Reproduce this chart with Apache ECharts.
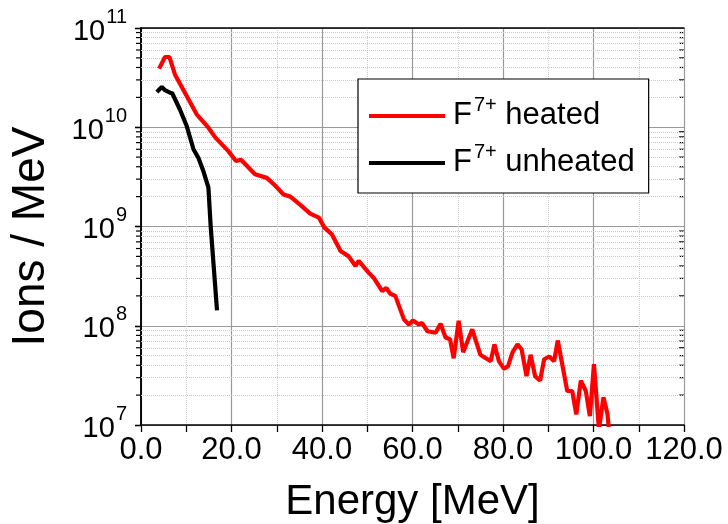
<!DOCTYPE html>
<html>
<head>
<meta charset="utf-8">
<script src="https://cdn.jsdelivr.net/npm/echarts@6/dist/echarts.min.js"></script>
<style>
	html, body { margin: 0; padding: 0; background: #fff; }
	#chart { width: 728px; height: 524px; }
</style>
</head>
<body>
<div id="chart"></div>
<script>
// energy [MeV] and ions / MeV
var heatedX = [4.0, 5.3, 6.3, 7.5, 10.1, 12.3, 14.9, 16.4, 19.3, 21.0, 22.1, 25.2, 27.8, 29.7, 31.5, 33.0, 35.2, 37.4, 39.3, 40.5, 42.2,
	44.1, 45.9, 47.4, 48.1, 50.3, 51.4, 53.3, 54.2, 55.1, 56.2, 58.1, 59.2, 60.1, 61.4, 62.1, 63.3, 65.1, 66.2, 67.3, 68.3,
	69.1, 70.2, 71.2, 73.2, 75.0, 76.2, 77.3, 78.1, 79.1, 80.2, 81.1, 82.1, 83.2, 84.1, 85.2, 86.1, 87.1, 88.2, 89.1, 90.2,
	91.3, 92.1, 94.2, 95.3, 96.2, 97.2, 98.3, 99.2, 100.1, 101.2, 102.2, 103.1, 103.5];
var heatedY = [3.9e10, 5.1e10, 5.1e10, 3.4e10, 2.07e10, 1.35e10, 9.9e9, 7.9e9, 5.75e9, 4.57e9, 4.7e9, 3.36e9, 3.09e9, 2.57e9, 2.1e9, 2.0e9, 1.65e9, 1.35e9, 1.23e9, 9.8e8, 8.3e8,
	5.66e8, 5.0e8, 4.0e8, 4.5e8, 3.43e8, 3.05e8, 2.24e8, 2.4e8, 2.1e8, 2.0e8, 1.16e8, 1.03e8, 1.13e8, 1.03e8, 1.07e8, 8.8e7, 8.5e7, 1.05e8, 7.6e7, 7.3e7,
	4.7e7, 1.12e8, 5.4e7, 9.2e7, 5.1e7, 4.7e7, 4.4e7, 6.5e7, 4.4e7, 3.7e7, 3.9e7, 5.4e7, 6.5e7, 5.8e7, 3.1e7, 5.1e7, 3.1e7, 2.8e7, 4.6e7, 4.9e7,
	4.4e7, 7.1e7, 2.2e7, 2.2e7, 1.28e7, 2.8e7, 2.2e7, 1.23e7, 4.1e7, 9e6, 1.9e7, 1.28e7, 8e6];
var unheatedX = [3.5, 4.6, 5.3, 6.4, 6.9, 8.6, 10.1, 11.6, 12.7, 13.8, 14.9, 15.4, 16.8];
var unheatedY = [2.27e10, 2.55e10, 2.36e10, 2.23e10, 2.2e10, 1.51e10, 1.03e10, 6.0e9, 4.9e9, 3.6e9, 2.46e9, 1.0e9, 1.43e8];
var xTicks = [0, 20, 40, 60, 80, 100, 120];
var decades = [7, 8, 9, 10, 11];
var minorMult = [2, 3, 4, 5, 6, 7, 8, 9];

var fontName = '"Liberation Sans", Arial, sans-serif';

function pairs(xs, ys){
	var out = [];
	for(var i = 0; i < xs.length; i++)
		out.push([xs[i], ys[i]]);
	return out;
}

// minor values 2..9 per decade
var minorVals = [];
for(var d = 0; d < decades.length - 1; d++){
	for(var m = 0; m < minorMult.length; m++)
		minorVals.push(minorMult[m] * Math.pow(10, decades[d]));
}
var minorLines = minorVals.map(function(v){ return { yAxis: v }; });

var chart = echarts.init(document.getElementById('chart'));
var option = {
	backgroundColor: '#fff',
	animation: false,
	textStyle: { fontFamily: fontName },
	grid: { left: 141, right: 44, top: 28, bottom: 99, containLabel: false, outerBoundsMode: 'none' },
	legend: {
		orient: 'vertical',
		left: 358,
		top: 79,
		padding: [16, 14, 15, 11],
		itemGap: 11,
		itemWidth: 76,
		itemHeight: 4,
		icon: 'rect',
		borderColor: '#000',
		borderWidth: 1.2,
		borderRadius: 0,
		backgroundColor: '#fff',
		data: ['F7+ heated', 'F7+ unheated'],
		formatter: function(name){
			return '{b|F}{s|7+}{b| ' + name.replace('F7+ ', '') + '}';
		},
		textStyle: {
			padding: [0, 0, 6, 3],
			rich: {
				b: { fontSize: 31, fontFamily: fontName, color: '#000', lineHeight: 36, verticalAlign: 'bottom' },
				s: { fontSize: 20, fontFamily: fontName, color: '#000', lineHeight: 18, verticalAlign: 'top', padding: [0, 0, 0, 2] }
			}
		}
	},
	xAxis: [{
		type: 'value',
		min: 0,
		max: 120,
		interval: 20,
		name: 'Energy [MeV]',
		nameLocation: 'middle',
		nameGap: 56,
		nameTextStyle: { fontSize: 42, color: '#000', fontFamily: fontName },
		axisLine: { lineStyle: { color: '#000', width: 1.5 } },
		axisTick: { length: 7, lineStyle: { color: '#000', width: 1.3 } },
		minorTick: { show: true, splitNumber: 2, length: 7, lineStyle: { color: '#000', width: 1.3 } },
		axisLabel: {
			fontSize: 31, color: '#000', margin: 10,
			formatter: function(v){ return xTicks.indexOf(v) >= 0 ? v.toFixed(1) : ''; }
		},
		splitLine: { show: true, lineStyle: { color: '#999', width: 1.2 } },
		minorSplitLine: { show: true, lineStyle: { color: '#ccc', type: 'dotted', width: 1 } }
	}, {
		type: 'value',
		position: 'top',
		min: 0,
		max: 120,
		interval: 20,
		axisLine: { show: true, onZero: false, lineStyle: { color: '#000', width: 1.5 } },
		axisTick: { show: false },
		axisLabel: { show: false },
		splitLine: { show: false }
	}],
	yAxis: [{
		type: 'log',
		logBase: 10,
		min: 1e7,
		max: 1e11,
		interval: 1,
		name: 'Ions / MeV',
		nameLocation: 'middle',
		nameGap: 87,
		nameTextStyle: { fontSize: 46, color: '#000', fontFamily: fontName, padding: [0, 20, 0, 0] },
		axisLine: { show: true, lineStyle: { color: '#000', width: 1.5 } },
		axisTick: { show: true, length: 6, lineStyle: { color: '#000', width: 1.3 } },
		axisLabel: {
			margin: 14,
			padding: [0, 0, 3, 0],
			formatter: function(v){
				var e = Math.round(Math.log10(v));
				return '{a|10}{e|' + e + '}';
			},
			rich: {
				a: { fontSize: 29, color: '#000', fontFamily: fontName, lineHeight: 39, verticalAlign: 'bottom' },
				e: { fontSize: 20, color: '#000', fontFamily: fontName, lineHeight: 20, verticalAlign: 'top', padding: [0, 0, 0, 1] }
			}
		},
		splitLine: { show: true, lineStyle: { color: '#999', width: 1.2 } }
	}, {
		type: 'log',
		logBase: 10,
		min: 1e7,
		max: 1e11,
		interval: 1,
		position: 'right',
		axisLine: { show: true, lineStyle: { color: '#000', width: 1.5 } },
		axisTick: { show: true, inside: true, length: 6, lineStyle: { color: '#000', width: 1.3 } },
		axisLabel: { show: false },
		splitLine: { show: false }
	}],
	series: [{
		name: 'F7+ heated',
		type: 'line',
		symbol: 'none',
		z: 3,
		lineStyle: { color: '#ff0000', width: 4.2 },
		itemStyle: { color: '#ff0000' },
		data: pairs(heatedX, heatedY),
		markLine: {
			silent: true,
			symbol: 'none',
			label: { show: false },
			z: 1,
			lineStyle: { color: '#c8c8c8', type: 'dotted', width: 1 },
			data: minorLines
		}
	}, {
		name: 'F7+ unheated',
		type: 'line',
		symbol: 'none',
		z: 4,
		lineStyle: { color: '#000', width: 4.2 },
		itemStyle: { color: '#000' },
		data: pairs(unheatedX, unheatedY)
	}]
};
chart.setOption(option);

// minor ticks on the left (outside) and right (inside) log axes
var tickEls = [];
var leftX = chart.convertToPixel({ xAxisIndex: 0 }, 0);
var rightX = chart.convertToPixel({ xAxisIndex: 0 }, 120);
for(var i = 0; i < minorVals.length; i++){
	var py = chart.convertToPixel({ yAxisIndex: 0 }, minorVals[i]);
	tickEls.push({ type: 'line', shape: { x1: leftX - 5, y1: py, x2: leftX, y2: py }, style: { stroke: '#000', lineWidth: 1.2 } });
	tickEls.push({ type: 'line', shape: { x1: rightX - 5, y1: py, x2: rightX, y2: py }, style: { stroke: '#000', lineWidth: 1.2 } });
}
chart.setOption({ graphic: tickEls });
</script>
</body>
</html>
